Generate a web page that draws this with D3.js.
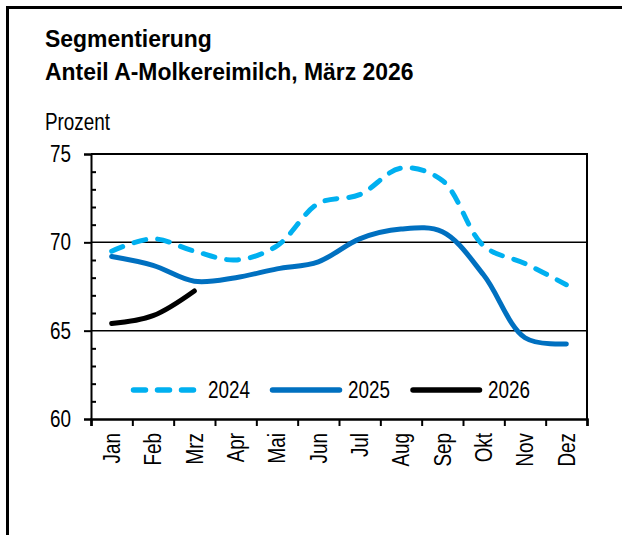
<html lang="de">
  <head>
    <meta charset="UTF-8" />
    <title>Segmentierung</title>
    <style>
      * {
        box-sizing: border-box;
        margin: 0;
        padding: 0;
      }
      body {
        background: #fff;
        width: 622px;
        height: 535px;
        overflow: hidden;
      }
      text {
        font-family: "Liberation Sans", Arial, sans-serif;
        fill: #000;
      }
    </style>
  </head>
  <body>
    <svg id="chart"></svg>

    <script src="https://d3js.org/d3.v7.min.js"></script>
    <script>
      // donnees du graphique
      const monate = ["Jan", "Feb", "Mrz", "Apr", "Mai", "Jun", "Jul", "Aug", "Sep", "Okt", "Nov", "Dez"];
      const werte2024 = [69.5, 70.2, 69.5, 69.0, 69.8, 72.2, 72.7, 74.2, 73.5, 69.8, 68.8, 67.6];
      const werte2025 = [69.2, 68.7, 67.8, 68.0, 68.5, 68.9, 70.2, 70.75, 70.6, 68.15, 64.6, 64.25];
      const werte2026 = [65.4, 65.85, 67.25];
      const yTicks = [60, 65, 70, 75];
      const gridWerte = [65, 70];
      const serien = [
        { name: "2024", werte: werte2024, farbe: "#00b0f0", dash: "12 12" },
        { name: "2025", werte: werte2025, farbe: "#0070c0", dash: null },
        { name: "2026", werte: werte2026, farbe: "#000000", dash: null },
      ];

      const width = 622;
      const height = 535;
      const plot = { left: 91, right: 587, top: 154, bottom: 419 };

      // pas de police etroite installee : on resserre le texte
      function schmal(sel, faktor = 0.82) {
        sel.each(function () {
          const l = this.getComputedTextLength();
          d3.select(this)
            .attr("textLength", l * faktor)
            .attr("lengthAdjust", "spacingAndGlyphs");
        });
      }

      const svg = d3.select("#chart").attr("width", width).attr("height", height);

      // cadre exterieur (seulement gauche et haut visibles)
      svg
        .append("path")
        .attr("d", `M7.5,${height + 5} L7.5,7.5 L${width + 5},7.5`)
        .attr("fill", "none")
        .attr("stroke", "#000")
        .attr("stroke-width", 3);

      // titres
      svg
        .append("text")
        .attr("x", 45)
        .attr("y", 47)
        .style("font-weight", "bold")
        .style("font-size", "24px")
        .text("Segmentierung")
        .call(schmal, 0.955);
      svg
        .append("text")
        .attr("x", 45)
        .attr("y", 80)
        .style("font-weight", "bold")
        .style("font-size", "24px")
        .text("Anteil A-Molkereimilch, März 2026")
        .call(schmal, 0.955);
      svg
        .append("text")
        .attr("x", 45)
        .attr("y", 130)
        .style("font-size", "23px")
        .text("Prozent")
        .call(schmal);

      // echelles
      const x = d3.scaleBand().domain(monate).range([plot.left, plot.right]);
      const xLin = d3.scaleLinear().domain([0, monate.length]).range([plot.left, plot.right]);
      const y = d3.scaleLinear().domain([60, 75]).range([plot.bottom, plot.top]);

      // lignes de grille
      svg
        .selectAll(".grid")
        .data(gridWerte)
        .enter()
        .append("line")
        .attr("class", "grid")
        .attr("x1", plot.left)
        .attr("x2", plot.right)
        .attr("y1", (d) => y(d))
        .attr("y2", (d) => y(d))
        .attr("stroke", "#000")
        .attr("stroke-width", 1.5);

      // bord haut et droit
      svg
        .append("path")
        .attr("d", `M${plot.left},${plot.top} L${plot.right},${plot.top} L${plot.right},${plot.bottom}`)
        .attr("fill", "none")
        .attr("stroke", "#000")
        .attr("stroke-width", 2);

      // axe y
      const yAxis = svg
        .append("g")
        .attr("transform", `translate(${plot.left},0)`)
        .call(d3.axisLeft(y).tickValues(yTicks).tickSize(7).tickPadding(13).tickFormat(d3.format("d")));
      yAxis.select(".domain").attr("stroke-width", 2);
      yAxis.selectAll(".tick line").attr("stroke-width", 2);
      yAxis
        .selectAll("text")
        .attr("font-family", null)
        .style("font-size", "23px")
        .call(schmal);

      // petites graduations a l'interieur
      const minor = d3.range(61, 75).filter((v) => v % 5 !== 0);
      const yMinor = svg
        .append("g")
        .attr("transform", `translate(${plot.left},0)`)
        .call(d3.axisRight(y).tickValues(minor).tickSize(5).tickFormat(""));
      yMinor.select(".domain").remove();
      yMinor.selectAll(".tick line").attr("stroke-width", 2);

      // axe x : graduations entre les mois
      const xTicks = svg
        .append("g")
        .attr("transform", `translate(0,${plot.bottom})`)
        .call(d3.axisBottom(xLin).tickValues(d3.range(monate.length + 1)).tickSize(7).tickFormat(""));
      xTicks.select(".domain").attr("stroke-width", 2.5);
      xTicks.selectAll(".tick line").attr("stroke-width", 2);

      // noms des mois
      const xAxis = svg
        .append("g")
        .attr("transform", `translate(0,${plot.bottom})`)
        .call(d3.axisBottom(x).tickSize(0).tickPadding(0));
      xAxis.select(".domain").remove();
      xAxis
        .selectAll("text")
        .attr("font-family", null)
        .style("font-size", "23px")
        .attr("text-anchor", "end")
        .attr("transform", "translate(0,14) rotate(-90)")
        .attr("x", 0)
        .attr("y", 0)
        .attr("dy", "0.36em")
        .call(schmal);

      // courbes lissees
      const ligne = d3
        .line()
        .x((d, i) => x(monate[i]) + x.bandwidth() / 2)
        .y((d) => y(d))
        .curve(d3.curveCatmullRom.alpha(0.5));

      svg
        .selectAll(".serie")
        .data(serien)
        .enter()
        .append("path")
        .attr("class", "serie")
        .attr("d", (d) => ligne(d.werte))
        .attr("fill", "none")
        .attr("stroke", (d) => d.farbe)
        .attr("stroke-width", 5)
        .attr("stroke-linecap", "round")
        .attr("stroke-linejoin", "round")
        .attr("stroke-dasharray", (d) => d.dash);

      // legende
      const legendeY = 390;
      const legendePos = [
        { x1: 133.5, x2: 193.5, tx: 208 },
        { x1: 272.5, x2: 339.5, tx: 348 },
        { x1: 413, x2: 479.5, tx: 488 },
      ];
      const legende = svg
        .selectAll(".legende")
        .data(serien)
        .enter()
        .append("g")
        .attr("class", "legende");
      legende
        .append("line")
        .attr("x1", (d, i) => legendePos[i].x1)
        .attr("x2", (d, i) => legendePos[i].x2)
        .attr("y1", legendeY)
        .attr("y2", legendeY)
        .attr("stroke", (d) => d.farbe)
        .attr("stroke-width", 5.5)
        .attr("stroke-linecap", "round")
        .attr("stroke-dasharray", (d) => d.dash);
      legende
        .append("text")
        .attr("x", (d, i) => legendePos[i].tx)
        .attr("y", legendeY + 8)
        .style("font-size", "23px")
        .text((d) => d.name)
        .call(schmal);
    </script>
  </body>
</html>
